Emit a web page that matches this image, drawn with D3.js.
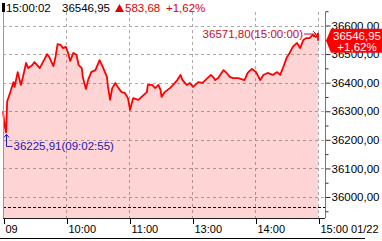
<!DOCTYPE html>
<html>
<head>
<meta charset="utf-8">
<script src="https://cdn.jsdelivr.net/npm/d3@7/dist/d3.min.js"></script>
<style>
    html, body { margin: 0; padding: 0; background: #fff; overflow: hidden; }
    svg { display: block; font-family: "Liberation Sans", Arial, sans-serif; font-size: 11.5px; }
</style>
</head>
<body>
<svg id="chart" width="382" height="241"></svg>
<script>
    "use strict";

    // Nikkei 225 intraday, 01/22 (lunch break 11:30-12:30 is skipped on the axis)
    var times = [
        "09:00", "09:01", "09:02", "09:02:55", "09:04", "09:07", "09:10", "09:11", "09:14", "09:17",
        "09:19", "09:22", "09:24", "09:28", "09:30", "09:35", "09:38", "09:42", "09:44", "09:48",
        "09:50", "09:52", "09:55", "09:57", "10:00", "10:02", "10:04", "10:07", "10:10", "10:12",
        "10:15", "10:16", "10:19", "10:21", "10:24", "10:28", "10:32", "10:35", "10:39", "10:40",
        "10:42", "10:44", "10:47", "10:50", "10:53", "10:56", "10:59", "11:01", "11:04", "11:09",
        "11:12", "11:17", "11:18", "11:22", "11:25", "11:28", "11:30", "12:31", "12:34", "12:39",
        "12:42", "12:46", "12:49", "12:51", "12:55", "12:58", "13:01", "13:06", "13:10", "13:14",
        "13:18", "13:21", "13:22", "13:25", "13:30", "13:33", "13:36", "13:39", "13:44", "13:50",
        "13:53", "13:57", "14:01", "14:05", "14:08", "14:12", "14:17", "14:21", "14:24", "14:27",
        "14:30", "14:33", "14:36", "14:40", "14:43", "14:46", "14:49", "14:52", "14:55", "14:58",
        "15:00:00", "15:00:02"
    ];
    var prices = [
        36300, 36268, 36242, 36225.91, 36335, 36367, 36402, 36385, 36437, 36392,
        36420, 36469, 36451, 36462, 36472, 36451, 36472, 36500, 36490, 36458,
        36490, 36535, 36532, 36521, 36525, 36504, 36476, 36504, 36497, 36462,
        36451, 36420, 36378, 36409, 36437, 36444, 36479, 36455, 36420, 36385,
        36340, 36381, 36399, 36381, 36367, 36364, 36346, 36305, 36346, 36340,
        36350, 36367, 36392, 36392, 36381, 36392, 36375, 36350, 36367, 36381,
        36392, 36409, 36427, 36409, 36392, 36399, 36385, 36402, 36399, 36413,
        36427, 36416, 36409, 36416, 36444, 36434, 36420, 36416, 36416, 36409,
        36434, 36448, 36437, 36409, 36427, 36434, 36427, 36437, 36427, 36455,
        36486, 36504, 36525, 36539, 36521, 36549, 36556, 36556, 36567, 36560,
        36571.80, 36546.95
    ];

    var prevClose = 35963.27;
    var lastTime = "15:00:02";
    var lastPrice = 36546.95;
    var change = 583.68;
    var changePct = 1.62;
    var highTime = "15:00:00";
    var highPrice = 36571.80;
    var lowTime = "09:02:55";
    var lowPrice = 36225.91;

    var yTicks = [36000, 36100, 36200, 36300, 36400, 36500, 36600];
    var yMinorTicks = [35950, 36050, 36150, 36250, 36350, 36450, 36550, 36650];
    var xTicks = ["09:00", "10:00", "11:00", "13:00", "14:00", "15:00"];
    var xTickLabels = ["09", "10:00", "11:00", "13:00", "14:00", "15:00 01/22"];

    // layout
    var plotLeft = 3, plotRight = 325, plotTop = 12, plotBottom = 218;

    // trading minutes since 09:00, lunch hour removed
    var session = function (s) {
        var p = s.split(":").map(Number);
        var m = (p[0] - 9) * 60 + p[1] + (p[2] || 0) / 60;
        return m > 150 ? m - 60 : m;
    };
    var comma = function (v) { return d3.format(".2f")(v).replace(".", ","); };

    var x = d3.scaleLinear().domain([0, 300]).range([3, 318]);
    var y = d3.scaleLinear().domain([36000, 36600]).range([197, 25.5]);

    var data = times.map(function (t, i) { return { t: session(t), v: prices[i] }; });

    var svg = d3.select("#chart");

    // grid
    svg.append("g").selectAll("line")
        .data(yTicks)
        .enter().append("line")
        .attr("x1", plotLeft).attr("x2", plotRight)
        .attr("y1", function (d) { return Math.round(y(d)) + 0.5; })
        .attr("y2", function (d) { return Math.round(y(d)) + 0.5; })
        .attr("stroke", "#aaa").attr("stroke-dasharray", "3,3");

    svg.append("g").selectAll("line")
        .data(xTicks.slice(1))
        .enter().append("line")
        .attr("x1", function (d) { return Math.round(x(session(d))) + 0.5; })
        .attr("x2", function (d) { return Math.round(x(session(d))) + 0.5; })
        .attr("y1", plotTop).attr("y2", plotBottom)
        .attr("stroke", "#aaa").attr("stroke-dasharray", "3,3");

    // previous close
    svg.append("line")
        .attr("x1", plotLeft).attr("x2", plotRight)
        .attr("y1", Math.round(y(prevClose)) + 0.5).attr("y2", Math.round(y(prevClose)) + 0.5)
        .attr("stroke", "#000").attr("stroke-dasharray", "3,2");

    // area + line
    var area = d3.area()
        .x(function (d) { return x(d.t); })
        .y0(plotBottom)
        .y1(function (d) { return y(d.v); });
    var line = d3.line()
        .x(function (d) { return x(d.t); })
        .y(function (d) { return y(d.v); });

    svg.append("path").datum(data)
        .attr("d", area)
        .attr("fill", "#ff0000").attr("fill-opacity", 0.17);
    svg.append("path").datum(data)
        .attr("d", line)
        .attr("fill", "none")
        .attr("stroke", "#f00")
        .attr("stroke-width", 1.8)
        .attr("stroke-linejoin", "round");

    // frame
    svg.append("line").attr("x1", plotLeft + 0.5).attr("x2", plotLeft + 0.5).attr("y1", plotTop).attr("y2", plotBottom)
        .attr("stroke", "#999");
    svg.append("line").attr("x1", plotRight + 0.5).attr("x2", plotRight + 0.5).attr("y1", plotTop).attr("y2", plotBottom)
        .attr("stroke", "#777");
    svg.append("line").attr("x1", plotLeft).attr("x2", plotRight).attr("y1", plotBottom + 0.5).attr("y2", plotBottom + 0.5)
        .attr("stroke", "#222");
    svg.append("line").attr("x1", 0).attr("x2", 365).attr("y1", 238.5).attr("y2", 238.5)
        .attr("stroke", "#000");

    // right axis
    var yAxis = d3.axisRight(y).tickValues(yTicks).tickSize(5).tickPadding(1).tickFormat(comma);
    var gy = svg.append("g").attr("transform", "translate(" + (plotRight + 0.5) + ",0)").call(yAxis);
    gy.select(".domain").remove();
    gy.selectAll("line").attr("stroke", "#333");
    gy.selectAll("text").attr("fill", "#000").style("font-size", "11.5px").style("font-family", null);

    var gyMinor = svg.append("g").attr("transform", "translate(" + (plotRight + 0.5) + ",0)")
        .call(d3.axisRight(y).tickValues(yMinorTicks).tickSize(3).tickFormat(""));
    gyMinor.select(".domain").remove();
    gyMinor.selectAll("line").attr("stroke", "#333");

    // bottom axis
    var xAxis = d3.axisBottom(x)
        .tickValues(xTicks.map(session))
        .tickSize(5)
        .tickFormat(function (d, i) { return xTickLabels[i]; });
    var gx = svg.append("g").attr("transform", "translate(0," + (plotBottom + 1) + ")").call(xAxis);
    gx.select(".domain").remove();
    gx.selectAll("line").attr("stroke", "#000").attr("transform", "translate(1,0)");
    gx.selectAll("text")
        .attr("text-anchor", "start")
        .attr("x", 2).attr("y", 4).attr("dy", "10px")
        .attr("fill", "#000").style("font-size", "11px").style("font-family", null);

    // header
    svg.append("rect").attr("x", 2).attr("y", 3).attr("width", 3).attr("height", 9).attr("fill", "#000");
    svg.append("text").attr("x", 6).attr("y", 12).attr("fill", "#000").text(lastTime);
    svg.append("text").attr("x", 62).attr("y", 12).attr("fill", "#000").text(comma(lastPrice));
    svg.append("path").attr("d", "M115,12L119.5,4L124,12Z").attr("fill", "#e00000");
    svg.append("text").attr("x", 125).attr("y", 12).attr("fill", "#e00000").text(comma(change));
    svg.append("text").attr("x", 166).attr("y", 12).attr("fill", "#e00000").text("+" + comma(changePct) + "%");

    // high marker
    var hx = x(session(highTime)), hy = y(highPrice);
    svg.append("text").attr("x", hx - 15).attr("y", hy + 4.5)
        .attr("text-anchor", "end").attr("fill", "#c0102a")
        .text(comma(highPrice) + "(" + highTime + ")");
    svg.append("path")
        .attr("d", "M" + (hx - 14) + "," + (hy + 0.5) + "H" + (hx - 2) +
            "M" + (hx - 5) + "," + (hy - 2.5) + "L" + (hx - 2) + "," + (hy + 0.5) + "L" + (hx - 5) + "," + (hy + 3.5))
        .attr("stroke", "#c0102a").attr("fill", "none");

    // low marker
    var lx = Math.round(x(session(lowTime))) + 0.5, ly = y(lowPrice);
    svg.append("path")
        .attr("d", "M" + lx + "," + (ly + 2) + "V" + (ly + 14) + "H" + (lx + 6) +
            "M" + (lx - 2.5) + "," + (ly + 5) + "L" + lx + "," + (ly + 2) + "L" + (lx + 2.5) + "," + (ly + 5))
        .attr("stroke", "#2020b0").attr("fill", "none");
    svg.append("text").attr("x", lx + 7).attr("y", ly + 18).attr("fill", "#2020b0")
        .text(comma(lowPrice) + "(" + lowTime + ")");

    // last price tag
    var ty = y(lastPrice);
    svg.append("path")
        .attr("d", "M" + (plotRight + 1) + "," + ty + "L" + (plotRight + 6) + "," + (ty - 12) +
            "H382V" + (ty + 12) + "H" + (plotRight + 6) + "Z")
        .attr("fill", "#f00");
    svg.append("text").attr("x", 357).attr("y", ty - 1).attr("text-anchor", "middle")
        .attr("fill", "#fff").text(comma(lastPrice));
    svg.append("text").attr("x", 357).attr("y", ty + 10).attr("text-anchor", "middle")
        .attr("fill", "#fff").text("+" + comma(changePct) + "%");
</script>
</body>
</html>
